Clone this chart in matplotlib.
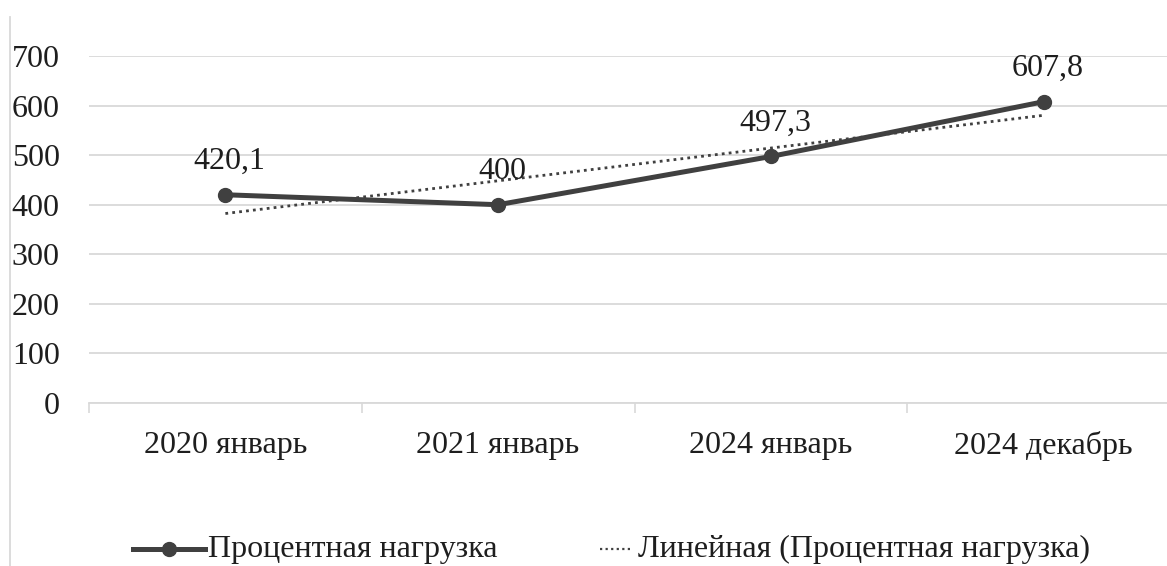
import numpy as np
import matplotlib.pyplot as plt
from matplotlib.lines import Line2D

# Data
categories = ["2020 январь", "2021 январь", "2024 январь", "2024 декабрь"]
values = [420.1, 400, 497.3, 607.8]
value_labels = ["420,1", "400", "497,3", "607,8"]
series_name = "Процентная нагрузка"
trend_name = "Линейная (Процентная нагрузка)"
y_ticks = [0, 100, 200, 300, 400, 500, 600, 700]

plt.rcParams['font.family'] = ['Liberation Serif', 'DejaVu Serif']

W, H = 1167, 566
fig = plt.figure(figsize=(W / 100, H / 100), dpi=100)

# plot area runs a bit past the right edge, as in the reference
left, right = 89, 1180
bottom, top = 403, 56
ax = fig.add_axes([left / W, (H - bottom) / H, (right - left) / W, (bottom - top) / H])

x = np.arange(1, len(categories) + 1)
line_color = "#404040"
text_color = "#1e1e1e"
fs = 23
dotted = (0, (1, 1.5))

# linear trend line
k, b = np.polyfit(x, values, 1)
ax.plot(x, k * x + b, color=line_color, lw=2, linestyle=dotted, zorder=3)

ax.plot(x, values, color=line_color, lw=3.6, marker="o", markersize=10, zorder=4,
        solid_capstyle="round")

for xi, v, lab in zip(x, values, value_labels):
    ax.annotate(lab, (xi, v), xytext=(3, 24), textcoords="offset points",
                ha="center", va="center", fontsize=fs, color=text_color)

ax.set_xlim(0.5, 4.5)
ax.set_ylim(0, 700)
ax.set_yticks(y_ticks)
ax.set_yticklabels([str(t) for t in y_ticks], fontsize=fs, color=text_color)
ax.set_xticks(x)
ax.set_xticklabels(categories, fontsize=fs, color=text_color)
ax.tick_params(axis="y", length=0, pad=21)
ax.tick_params(axis="x", length=0, pad=20)

# category boundary ticks
ax.set_xticks(np.arange(0.5, 5, 1), minor=True)
ax.tick_params(axis="x", which="minor", length=7, color="#d9d9d9", width=1.2)

ax.grid(axis="y", color="#d9d9d9", lw=1.3)
ax.set_axisbelow(True)
for s in ["top", "right", "left"]:
    ax.spines[s].set_visible(False)
ax.spines["bottom"].set_color("#d9d9d9")
ax.spines["bottom"].set_linewidth(1.3)

# left border of the chart frame
fig.add_artist(Line2D([10 / W, 10 / W], [0, (H - 17) / H], color="#d9d9d9", lw=1.3))

# legend, laid out by hand like the Excel one (different sample lengths)
ly = (H - 549) / H
fig.add_artist(Line2D([133 / W, 205 / W], [ly, ly], color=line_color, lw=3.6))
fig.add_artist(Line2D([169 / W], [ly], color=line_color, marker="o", markersize=10))
fig.text(208 / W, ly, series_name, fontsize=fs, color=text_color, va="center", ha="left")
fig.add_artist(Line2D([600 / W, 632 / W], [ly, ly], color=line_color, lw=1.6, linestyle=dotted))
fig.text(638 / W, ly, trend_name, fontsize=fs, color=text_color, va="center", ha="left")

fig.savefig("out.png", dpi=100, facecolor="white")
